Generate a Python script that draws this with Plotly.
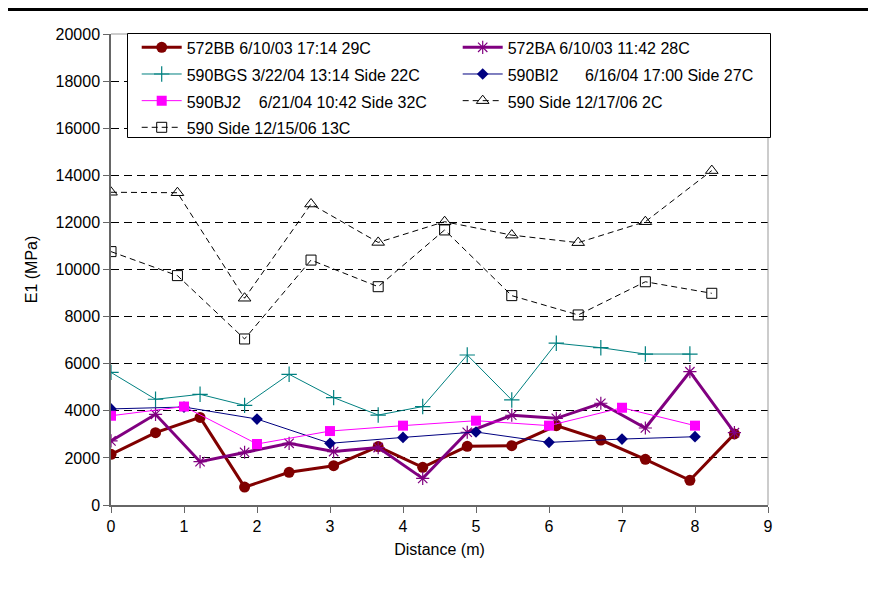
import plotly.graph_objects as go

# ---- data ----
x_2ft = [0, 0.61, 1.22, 1.83, 2.44, 3.05, 3.66, 4.27, 4.88, 5.49, 6.10, 6.71, 7.32, 7.93, 8.54]
x_1m = [0, 1, 2, 3, 4, 5, 6, 7, 8]
x_3ft = [0, 0.91, 1.83, 2.74, 3.66, 4.57, 5.49, 6.40, 7.32, 8.23]

e1_572BB = [2150, 3070, 3720, 760, 1390, 1670, 2480, 1600, 2490, 2520, 3370, 2760, 1940, 1050, 3020]
e1_572BA = [2720, 3850, 1840, 2240, 2620, 2270, 2440, 1130, 3090, 3810, 3680, 4320, 3270, 5660, 3070]
e1_590BGS = [5630, 4490, 4700, 4230, 5550, 4560, 3820, 4180, 6370, 4460, 6870, 6680, 6410, 6410]
e1_590BI2 = [4080, 4160, 3650, 2620, 2870, 3100, 2660, 2800, 2900]
e1_590BJ2 = [3790, 4180, 2590, 3140, 3370, 3580, 3370, 4130, 3370]
e1_side_121706 = [13280, 13260, 8780, 12780, 11150, 12030, 11460, 11140, 12030, 14200]
e1_side_121506 = [10760, 9740, 7050, 10400, 9270, 11680, 8890, 8070, 9480, 8990]

names = [
    "572BB 6/10/03 17:14 29C",
    "572BA 6/10/03 11:42 28C",
    "590BGS 3/22/04 13:14 Side 22C",
    "590BI2\u00a0\u00a0\u00a0\u00a0\u00a0 6/16/04 17:00 Side 27C",
    "590BJ2\u00a0\u00a0\u00a0 6/21/04 10:42 Side 32C",
    "590 Side 12/17/06 2C",
    "590 Side 12/15/06 13C",
]

FONT = "Liberation Sans, Arial, sans-serif"


def lg(t):
    return '<span style="font-size:16px">' + t + '</span>'


fig = go.Figure()
fig.add_trace(go.Scatter(x=x_2ft, y=e1_572BB, name=lg(names[0]), mode="lines+markers",
                         line=dict(color="#800000", width=3),
                         marker=dict(symbol="circle", size=11, color="#800000")))
fig.add_trace(go.Scatter(x=x_2ft, y=e1_572BA, name=lg(names[1]), mode="lines+markers",
                         line=dict(color="#800080", width=3),
                         marker=dict(symbol="asterisk-open", size=11,
                                     line=dict(color="#800080", width=1.2))))
fig.add_trace(go.Scatter(x=x_2ft[:14], y=e1_590BGS, name=lg(names[2]), mode="lines+markers",
                         line=dict(color="#008080", width=1),
                         marker=dict(symbol="cross-thin-open", size=11,
                                     line=dict(color="#008080", width=1.2))))
fig.add_trace(go.Scatter(x=x_1m, y=e1_590BI2, name=lg(names[3]), mode="lines+markers",
                         line=dict(color="#000080", width=1),
                         marker=dict(symbol="diamond", size=9, color="#000080")))
fig.add_trace(go.Scatter(x=x_1m, y=e1_590BJ2, name=lg(names[4]), mode="lines+markers",
                         line=dict(color="#FF00FF", width=1),
                         marker=dict(symbol="square", size=10, color="#FF00FF")))
fig.add_trace(go.Scatter(x=x_3ft, y=e1_side_121706, name=lg(names[5]), mode="lines+markers",
                         line=dict(color="black", width=1, dash="6px,4px"),
                         marker=dict(symbol="triangle-up-open", size=11,
                                     line=dict(color="black", width=1), color="black")))
fig.add_trace(go.Scatter(x=x_3ft, y=e1_side_121506, name=lg(names[6]), mode="lines+markers",
                         line=dict(color="black", width=1, dash="6px,4px"),
                         marker=dict(symbol="square-open", size=10,
                                     line=dict(color="black", width=1), color="black")))

# the page body has an 8px margin, so the figure is laid out in page px minus 8
OFF = 8
W, H = 876 - OFF, 589 - OFF
L = 111 - OFF
T = 34 - OFF
R = W - (768 - OFF)
B = H - (505 - OFF)
pw, ph = W - L - R, H - T - B


def px_x(p):
    return (p - OFF - L) / pw


def px_y(p):
    return (H - B - (p - OFF)) / ph


fig.update_layout(
    width=W, height=H,
    margin=dict(l=L, r=R, t=T, b=B, pad=0),
    paper_bgcolor="white", plot_bgcolor="white",
    font=dict(family=FONT, size=16, color="black"),
    showlegend=True,
    legend=dict(
        orientation="h",
        x=px_x(136.7), y=px_y(29), xanchor="left", yanchor="top",
        entrywidth=266, entrywidthmode="pixels",
        bgcolor="rgba(0,0,0,0)", borderwidth=0,
        font=dict(family=FONT, size=18.2, color="black"),
        itemwidth=40, traceorder="normal",
    ),
    xaxis=dict(
        range=[0, 9], dtick=1, tick0=0,
        showgrid=False, zeroline=False,
        showline=True, linecolor="#666666", linewidth=1.5,
        ticks="outside", ticklen=6, tickcolor="#666666",
        tickfont=dict(size=16),
        title=dict(text="Distance (m)", font=dict(size=16), standoff=10),
    ),
    yaxis=dict(
        range=[0, 20000], dtick=2000, tick0=0,
        showgrid=True, gridcolor="black", gridwidth=1, griddash="8px,5px",
        zeroline=False,
        showline=True, linecolor="#666666", linewidth=1.5,
        ticks="outside", ticklen=6, tickcolor="#666666",
        tickfont=dict(size=16), tickformat="d",
        title=dict(text="E1 (MPa)", font=dict(size=16), standoff=14),
    ),
    shapes=[
        dict(type="line", xref="paper", yref="paper", x0=0, x1=1, y0=1, y1=1,
             line=dict(color="#999999", width=1)),
        dict(type="line", xref="paper", yref="paper", x0=1, x1=1, y0=0, y1=1,
             line=dict(color="#999999", width=1)),
        dict(type="line", xref="paper", yref="paper", x0=px_x(0), x1=px_x(900),
             y0=px_y(9.5), y1=px_y(9.5), line=dict(color="black", width=3)),
        # legend frame
        dict(type="rect", xref="paper", yref="paper", layer="above",
             x0=px_x(127.5), x1=px_x(770.5), y0=px_y(137.5), y1=px_y(33.5),
             fillcolor="white", line=dict(color="black", width=1)),
    ],
)

fig.write_html("out.html")
